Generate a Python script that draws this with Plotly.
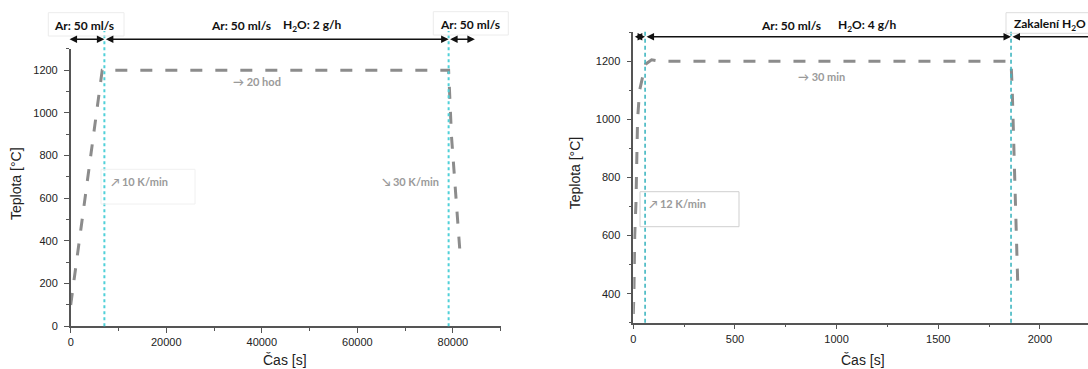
import plotly.graph_objects as go

W, H = 1088, 369

# ---- data: 20 h oxidation run (left) ----
t_long = [0, 6600, 7000, 79100, 79700, 81450]
T_long = [100, 1200, 1200, 1200, 890, 355]
bounds_long = [7050, 79100]          # gas switch times [s]
arrows_long = [(-550, 7050), (7050, 79100), (79100, 84600)]

# ---- data: 30 min oxidation + water quench (right) ----
t_short = [0, 3, 7, 13, 21, 31, 60, 90, 131, 1858, 1864, 1873, 1881, 1892]
T_short = [330, 400, 600, 710, 1000, 1100, 1190, 1205, 1200, 1200, 1100, 850, 620, 410]
bounds_short = [58, 1858]
arrows_short = [(0, 58), (58, 1858), (1858, 2450)]

# tick settings
x_ticks_long = [0, 20000, 40000, 60000, 80000]
y_ticks_long = [0, 200, 400, 600, 800, 1000, 1200]
x_ticks_short = [0, 500, 1000, 1500, 2000]
y_ticks_short = [400, 600, 800, 1000, 1200]


def px(x):
    return x / W


def py(y):
    return 1 - y / H


GRAY_LINE = "#8c8c8c"
AXIS = "#555555"
TICKFONT = dict(family="Liberation Sans, Arial, sans-serif", size=11, color="#222222")
LABELFONT = dict(family="Lato, Open Sans", size=12, color="#111111")
NOTEFONT = dict(family="Lato, Open Sans", size=11, color="#9a9a9a")
TITLEFONT = dict(family="Liberation Sans, Arial, sans-serif", size=14, color="#222222")

fig = go.Figure()

fig.add_trace(go.Scatter(
    x=t_long, y=T_long, mode="lines", xaxis="x", yaxis="y",
    line=dict(color=GRAY_LINE, width=3, dash="12px,13px"), showlegend=False,
))
fig.add_trace(go.Scatter(
    x=t_short, y=T_short, mode="lines", xaxis="x2", yaxis="y2",
    line=dict(color=GRAY_LINE, width=3, dash="12px,13px"), showlegend=False,
))

axis_common = dict(
    showline=True, linecolor=AXIS, linewidth=1.5, ticks="outside", ticklen=5,
    tickwidth=1.2, tickcolor=AXIS, showgrid=False, zeroline=False,
    tickfont=TICKFONT, tickformat="d",
)

fig.update_layout(
    template="none",
    width=W, height=H,
    margin=dict(l=0, r=0, t=0, b=0),
    paper_bgcolor="white", plot_bgcolor="white",
    xaxis=dict(domain=[px(70.7), px(500.7)], range=[0, 90000], anchor="y",
               tickvals=x_ticks_long,
               minor=dict(dtick=10000, ticklen=3, tickcolor=AXIS, ticks="outside"),
               **axis_common),
    yaxis=dict(domain=[py(326.3), py(48.8)], range=[0, 1300], anchor="x",
               tickvals=y_ticks_long, ticklabelstandoff=4,
               minor=dict(dtick=100, ticklen=3, tickcolor=AXIS, ticks="outside"),
               **axis_common),
    xaxis2=dict(domain=[px(633.3), 1.0], range=[0, 2236.6], anchor="y2",
                tickvals=x_ticks_short,
                minor=dict(dtick=250, ticklen=3, tickcolor=AXIS, ticks="outside"),
                **axis_common),
    yaxis2=dict(domain=[py(322.7), py(32.3)], range=[300, 1300], anchor="x2",
                tickvals=y_ticks_short, ticklabelstandoff=4,
                minor=dict(dtick=100, ticklen=3, tickcolor=AXIS, ticks="outside"),
                **axis_common),
)

shapes = []
# phase boundaries (vertical cyan markers)
for b in bounds_long:
    shapes.append(dict(type="line", xref="x", yref="paper", x0=b, x1=b,
                       y0=py(326.3), y1=py(31),
                       line=dict(color="#4fd0d8", width=2, dash="3px,3px")))
for b in bounds_short:
    shapes.append(dict(type="line", xref="x2", yref="paper", x0=b, x1=b,
                       y0=py(322.7), y1=py(30),
                       line=dict(color="#3fb6c0", width=1.6, dash="4px,3px")))


def box(x0, y0, x1, y1, color):
    return dict(type="rect", xref="paper", yref="paper",
                x0=px(x0), x1=px(x1), y0=py(y1), y1=py(y0),
                line=dict(color=color, width=1), fillcolor="rgba(255,255,255,0)")


shapes += [
    box(48.3, 12.7, 124, 36, "#ececec"),
    box(433.3, 11.7, 508.3, 35, "#ececec"),
    box(101, 169.3, 195, 204, "#f0f0f0"),
    box(640, 191.7, 739, 226.7, "#cfcfcf"),
    box(1006, 12.7, 1100, 33.3, "#dddddd"),
]
fig.update_layout(shapes=shapes)

ann = []
# double-headed phase arrows
for (a, b) in arrows_long:
    ann.append(dict(xref="x", yref="paper", x=b, y=py(39.3), axref="x", ayref="pixel",
                    ax=a, ay=0, text="", showarrow=True, arrowside="end+start",
                    arrowhead=2, arrowsize=1, arrowwidth=1.5, arrowcolor="#111111",
                    font=dict(size=1)))
for (a, b) in arrows_short:
    ann.append(dict(xref="x2", yref="paper", x=b, y=py(36.7), axref="x2", ayref="pixel",
                    ax=a, ay=0, text="", showarrow=True, arrowside="end+start",
                    arrowhead=2, arrowsize=1, arrowwidth=1.5, arrowcolor="#111111",
                    font=dict(size=1)))


def label(x, y, text, font, xanchor="center", angle=0):
    return dict(xref="paper", yref="paper", x=px(x), y=py(y), text=text,
                showarrow=False, xanchor=xanchor, yanchor="middle",
                font=font, textangle=angle)


ann += [
    label(83.7, 25.5, "<b>Ar: 50 ml/s</b>", LABELFONT),
    label(240.5, 26, "<b>Ar: 50 ml/s</b>", LABELFONT),
    label(312.5, 26, "<b>H<sub>2</sub>O: 2 g/h</b>", LABELFONT),
    label(470, 24.3, "<b>Ar: 50 ml/s</b>", LABELFONT),
    label(790.8, 25, "<b>Ar: 50 ml/s</b>", LABELFONT),
    label(867.7, 25, "<b>H<sub>2</sub>O: 4 g/h</b>", LABELFONT),
    label(1012, 24, "<b>Zakalení H<sub>2</sub>O</b>", LABELFONT, xanchor="left"),
    label(256.7, 81.7, "<b>→ 20 hod</b>", NOTEFONT),
    label(821, 76.7, "<b>→ 30 min</b>", NOTEFONT),
    label(108.5, 181.7, "<b>↗ 10 K/min</b>", NOTEFONT, xanchor="left"),
    label(380, 181.7, "<b>↘ 30 K/min</b>", NOTEFONT, xanchor="left"),
    label(646.5, 203.3, "<b>↗ 12 K/min</b>", NOTEFONT, xanchor="left"),
    label(16.7, 183.3, "Teplota [°C]", TITLEFONT, angle=-90),
    label(575, 173.3, "Teplota [°C]", TITLEFONT, angle=-90),
    label(285, 360, "Čas [s]", TITLEFONT),
    label(862.7, 360, "Čas [s]", TITLEFONT),
]
fig.update_layout(annotations=ann)

fig.write_html("out.html")
